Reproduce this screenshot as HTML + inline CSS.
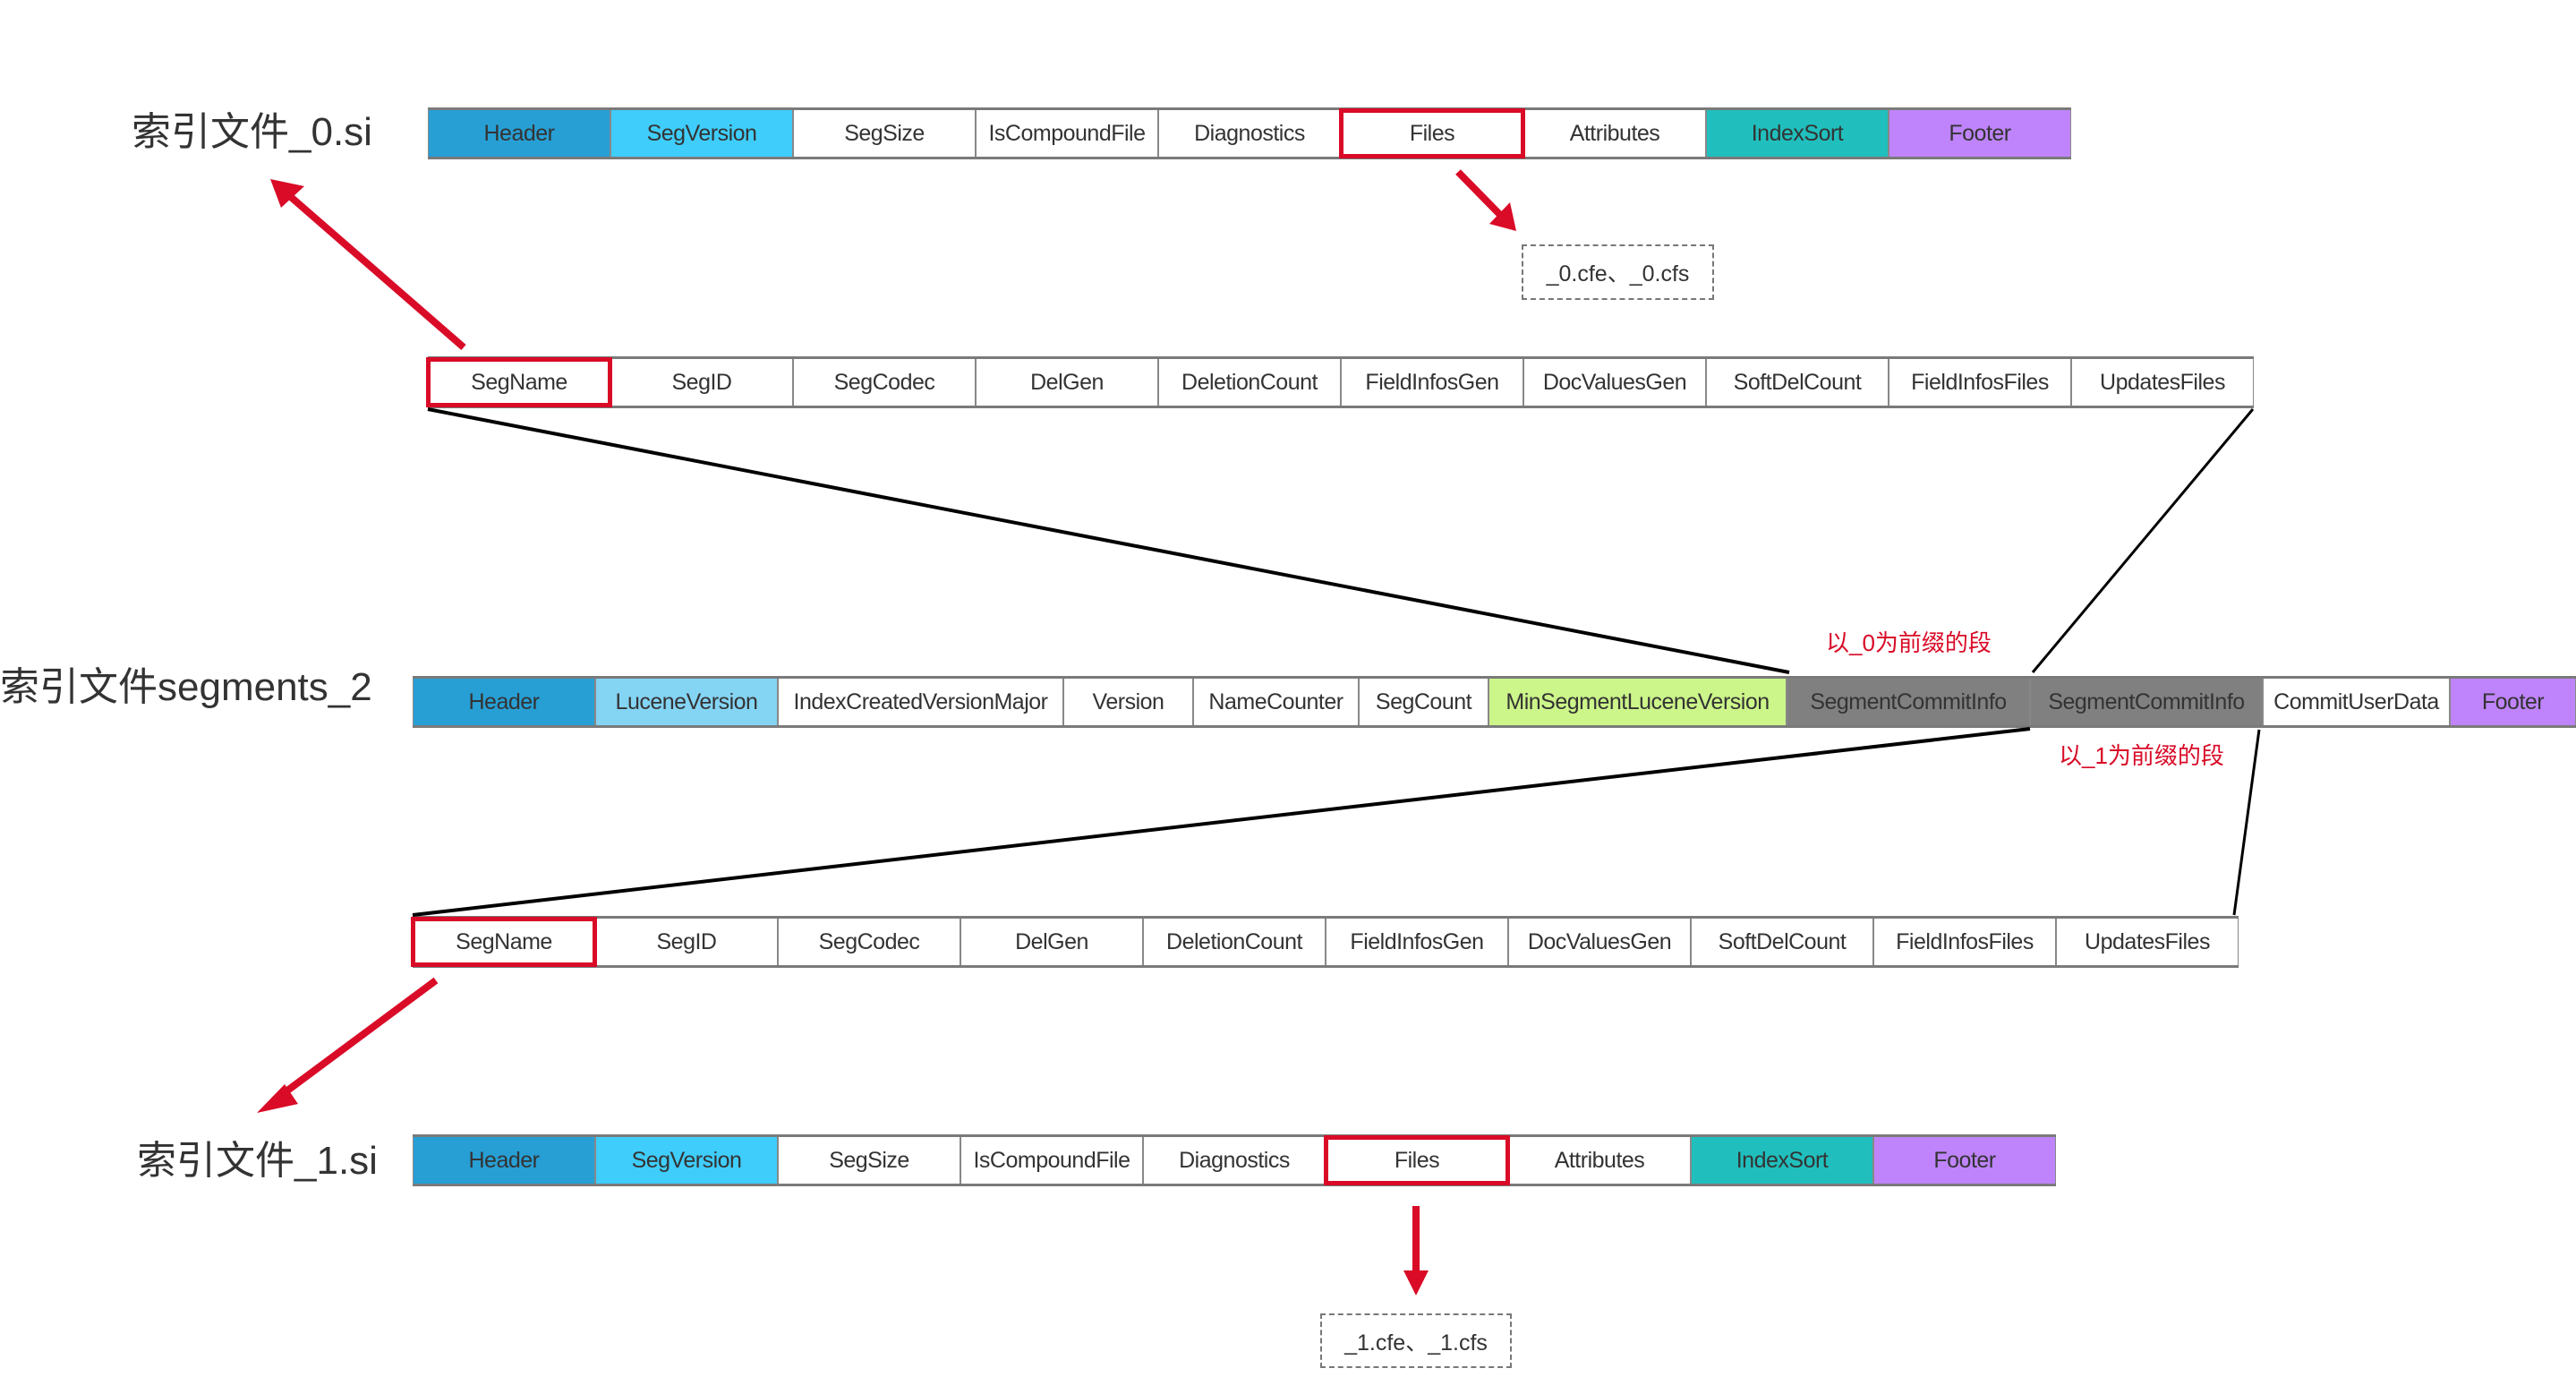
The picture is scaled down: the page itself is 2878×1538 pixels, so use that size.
<!DOCTYPE html>
<html><head><meta charset="utf-8"><style>
body{margin:0;width:2878px;height:1538px;background:#fff;position:relative;overflow:hidden;font-family:"Liberation Sans","Noto Sans CJK SC",sans-serif;}
.row{position:absolute;display:flex;height:58px;border-top:3px solid #7a7a7a;border-bottom:3px solid #7a7a7a;box-sizing:border-box;}
.c{box-sizing:border-box;border-left:1px solid #888;border-right:1px solid #888;display:flex;align-items:center;justify-content:center;font-size:25px;color:#333;white-space:nowrap;letter-spacing:-0.5px;overflow:visible}
.r{outline:5px solid #d90b27;outline-offset:-3px;position:relative;z-index:2}
.lbl{position:absolute;font-size:44px;color:#333;white-space:nowrap;line-height:1}
.red{position:absolute;font-size:26px;color:#d90b27;white-space:nowrap;line-height:1}
.dash{position:absolute;border:2px dashed #777;box-sizing:border-box;display:flex;align-items:center;justify-content:center;font-size:25px;color:#333}
svg{position:absolute;left:0;top:0}
</style></head><body>
<div class="lbl" style="left:147px;top:126px">索引文件_0.si</div>
<div class="row" style="left:478px;top:120px">
<div class="c" style="width:204px;background:#279fd5">Header</div>
<div class="c" style="width:204px;background:#3fcdfc">SegVersion</div>
<div class="c" style="width:204px">SegSize</div>
<div class="c" style="width:204px">IsCompoundFile</div>
<div class="c" style="width:204px">Diagnostics</div>
<div class="c r" style="width:204px">Files</div>
<div class="c" style="width:204px">Attributes</div>
<div class="c" style="width:204px;background:#20bfbd">IndexSort</div>
<div class="c" style="width:204px;background:#bf84fb">Footer</div>
</div>
<div class="dash" style="left:1700px;top:273px;width:215px;height:62px">_0.cfe、_0.cfs</div>

<div class="row" style="left:478px;top:398px">
<div class="c r" style="width:204px">SegName</div>
<div class="c" style="width:204px">SegID</div>
<div class="c" style="width:204px">SegCodec</div>
<div class="c" style="width:204px">DelGen</div>
<div class="c" style="width:204px">DeletionCount</div>
<div class="c" style="width:204px">FieldInfosGen</div>
<div class="c" style="width:204px">DocValuesGen</div>
<div class="c" style="width:204px">SoftDelCount</div>
<div class="c" style="width:204px">FieldInfosFiles</div>
<div class="c" style="width:204px">UpdatesFiles</div>
</div>

<div class="lbl" style="left:0px;top:746px">索引文件segments_2</div>
<div class="red" style="left:2040px;top:705px">以_0为前缀的段</div>
<div class="row" style="left:461px;top:755px">
<div class="c" style="width:204px;background:#279fd5">Header</div>
<div class="c" style="width:204px;background:#84d4f4">LuceneVersion</div>
<div class="c" style="width:319px">IndexCreatedVersionMajor</div>
<div class="c" style="width:145px">Version</div>
<div class="c" style="width:185px">NameCounter</div>
<div class="c" style="width:145px">SegCount</div>
<div class="c" style="width:333px;background:#ccf58a">MinSegmentLuceneVersion</div>
<div class="c" style="width:272px;background:#808080">SegmentCommitInfo</div>
<div class="c" style="width:260px;background:#808080">SegmentCommitInfo</div>
<div class="c" style="width:209px">CommitUserData</div>
<div class="c" style="width:141px;background:#bf84fb">Footer</div>
</div>
<div class="red" style="left:2300px;top:831px">以_1为前缀的段</div>

<div class="row" style="left:461px;top:1023px">
<div class="c r" style="width:204px">SegName</div>
<div class="c" style="width:204px">SegID</div>
<div class="c" style="width:204px">SegCodec</div>
<div class="c" style="width:204px">DelGen</div>
<div class="c" style="width:204px">DeletionCount</div>
<div class="c" style="width:204px">FieldInfosGen</div>
<div class="c" style="width:204px">DocValuesGen</div>
<div class="c" style="width:204px">SoftDelCount</div>
<div class="c" style="width:204px">FieldInfosFiles</div>
<div class="c" style="width:204px">UpdatesFiles</div>
</div>

<div class="lbl" style="left:153px;top:1275px">索引文件_1.si</div>
<div class="row" style="left:461px;top:1267px">
<div class="c" style="width:204px;background:#279fd5">Header</div>
<div class="c" style="width:204px;background:#3fcdfc">SegVersion</div>
<div class="c" style="width:204px">SegSize</div>
<div class="c" style="width:204px">IsCompoundFile</div>
<div class="c" style="width:204px">Diagnostics</div>
<div class="c r" style="width:204px">Files</div>
<div class="c" style="width:204px">Attributes</div>
<div class="c" style="width:204px;background:#20bfbd">IndexSort</div>
<div class="c" style="width:204px;background:#bf84fb">Footer</div>
</div>
<div class="dash" style="left:1475px;top:1467px;width:214px;height:61px">_1.cfe、_1.cfs</div>

<svg width="2878" height="1538">
<g stroke="#000" fill="none">
<line x1="478" y1="457" x2="1999" y2="751" stroke-width="4"/>
<line x1="2517" y1="457" x2="2271" y2="751" stroke-width="3"/>
<line x1="2268" y1="814" x2="461" y2="1022" stroke-width="4"/>
<line x1="2524" y1="815" x2="2496" y2="1022" stroke-width="3"/>
</g>
<g stroke="#d90b27" stroke-width="8" fill="#d90b27">
<line x1="518" y1="388" x2="318" y2="214"/>
<polygon points="302,200 340,208 314,232" stroke="none"/>
<line x1="1629" y1="192" x2="1680" y2="244"/>
<polygon points="1694,258 1687,226 1664,250" stroke="none"/>
<line x1="487" y1="1095" x2="305" y2="1230"/>
<polygon points="287,1243 318,1211 333,1233" stroke="none" transform=""/>
<line x1="1582" y1="1347" x2="1582" y2="1420"/>
<polygon points="1582,1447 1568,1419 1596,1419" stroke="none"/>
</g>
</svg>
</body></html>
